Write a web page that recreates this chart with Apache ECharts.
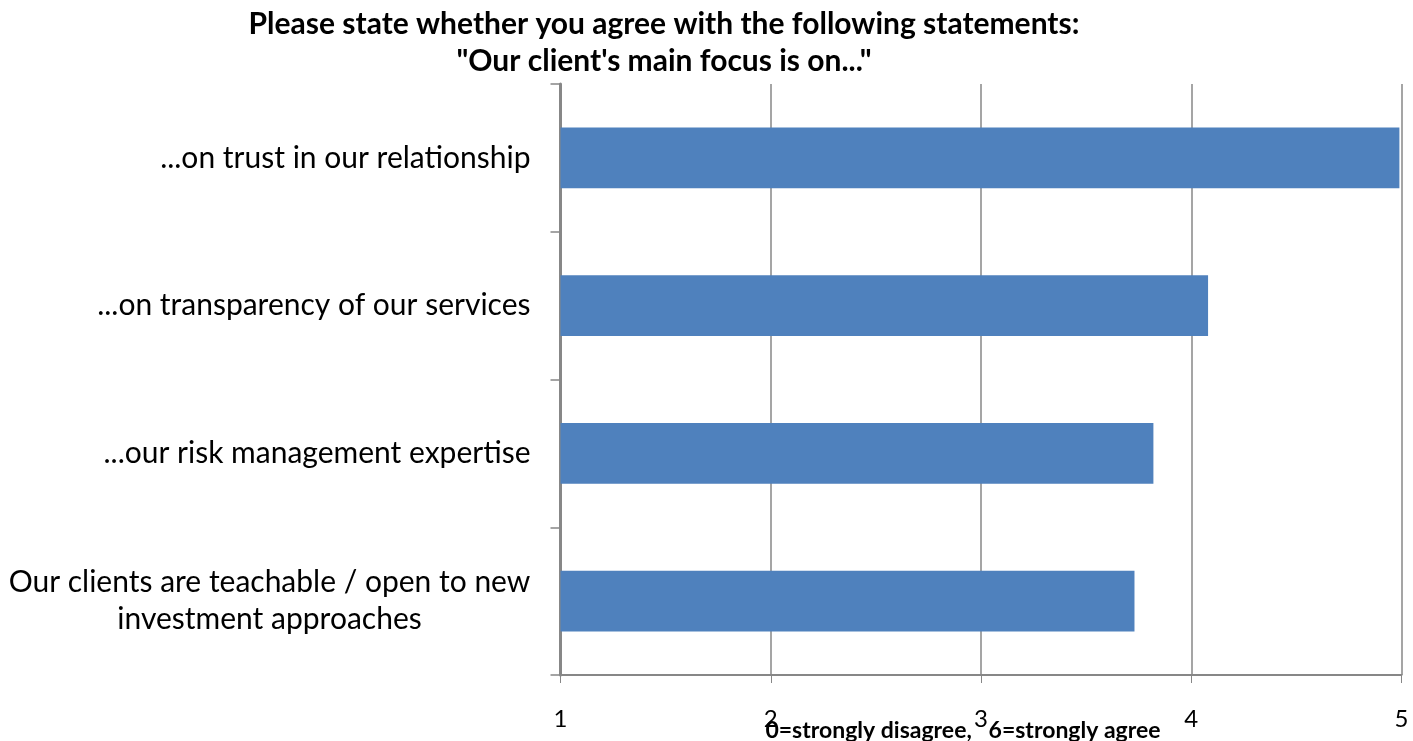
<!DOCTYPE html>
<html>
<head>
<meta charset="utf-8">
<script src="https://cdn.jsdelivr.net/npm/echarts@6/dist/echarts.min.js"></script>
<style>
  html, body { margin: 0; padding: 0; background: #ffffff; }
  #chart { width: 1413px; height: 741px; }
</style>
</head>
<body>
<div id="chart"></div>
<script>
// Survey statements, listed top to bottom
const categories = [
  '...on trust in our relationship',
  '...on transparency of our services',
  '...our risk management expertise',
  'Our clients are teachable / open to new\ninvestment approaches'
];
// Mean agreement scores
const scores = [4.99, 4.08, 3.82, 3.73];
// Value axis range
const axisMin = 1;
const axisMax = 5;

const FONT = 'Lato, "Open Sans", sans-serif';
const GRID_GREY = '#878787';
const CAT_SIZE = 30;

// width of the widest line of a label, so multi-line labels can be centred line by line
const measureCtx = document.createElement('canvas').getContext('2d');
function blockWidth(label) {
  measureCtx.font = CAT_SIZE + 'px ' + FONT;
  return Math.ceil(Math.max.apply(null, label.split('\n').map(function (l) {
    return measureCtx.measureText(l).width;
  })));
}

// one rich style per multi-line label, sized to that label's widest line
const richStyles = {};
categories.forEach(function (cat) {
  if (cat.indexOf('\n') < 0) return;
  const w = blockWidth(cat);
  richStyles['c' + w] = {
    fontFamily: FONT,
    fontSize: CAT_SIZE,
    color: '#000000',
    lineHeight: 37,
    width: w,
    align: 'center'
  };
});

const chart = echarts.init(document.getElementById('chart'), null, { renderer: 'canvas' });

chart.setOption({
  animation: false,
  backgroundColor: '#ffffff',
  title: {
    text: 'Please state whether you agree with the following statements:\n"Our client\'s main focus is on..."',
    left: 659,
    top: 1,
    textAlign: 'center',
    textStyle: {
      fontFamily: FONT,
      fontSize: 30,
      fontWeight: 'bold',
      color: '#000000',
      lineHeight: 37
    }
  },
  grid: {
    left: 560.5,
    right: 11.5,
    top: 84,
    bottom: 66,
    containLabel: false,
    outerBoundsMode: 'none'
  },
  xAxis: {
    type: 'value',
    min: axisMin,
    max: axisMax,
    interval: 1,
    name: '0=strongly disagree,   6=strongly agree',
    nameLocation: 'middle',
    nameGap: 44,
    nameMoveOverlap: false,
    nameTextStyle: {
      fontFamily: FONT,
      fontSize: 23,
      fontWeight: 'bold',
      color: '#000000',
      padding: [0, 36, 0, 0]
    },
    axisLine: { show: true, lineStyle: { color: GRID_GREY, width: 2 } },
    axisTick: { show: true, length: 8, lineStyle: { color: GRID_GREY, width: 1 } },
    axisLabel: {
      margin: 32,
      fontFamily: FONT,
      fontSize: 24,
      color: '#000000'
    },
    splitLine: { show: true, lineStyle: { color: GRID_GREY, width: 1.5 } }
  },
  yAxis: {
    type: 'category',
    data: categories,
    inverse: true,
    axisLine: { show: true, lineStyle: { color: GRID_GREY, width: 3 } },
    axisTick: { show: true, length: 10, lineStyle: { color: GRID_GREY, width: 1.5 } },
    axisLabel: {
      margin: 30,
      fontFamily: FONT,
      fontSize: CAT_SIZE,
      color: '#000000',
      lineHeight: 37,
      formatter: function (value) {
        if (value.indexOf('\n') < 0) return value;
        const key = 'c' + blockWidth(value);
        return value.split('\n').map(function (line) {
          return '{' + key + '|' + line + '}';
        }).join('\n');
      },
      rich: richStyles
    }
  },
  series: [{
    type: 'bar',
    data: scores,
    barCategoryGap: '59%',
    itemStyle: { color: '#4F81BD' }
  }]
});
</script>
</body>
</html>
